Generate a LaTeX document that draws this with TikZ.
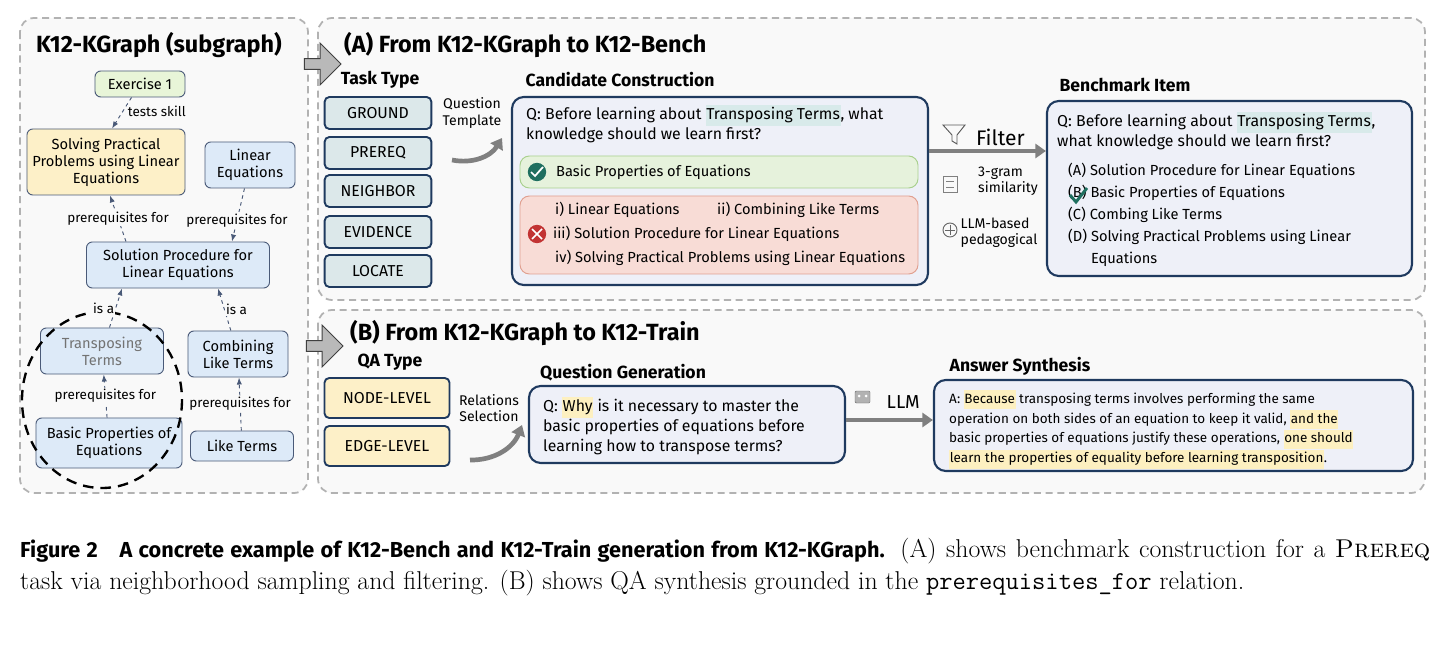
\documentclass[tikz,border=0pt]{standalone}
\usepackage{fontspec}
\newfontfamily\hand{Fira Sans}
\usetikzlibrary{arrows.meta,fit,shapes.arrows,positioning}
\definecolor{navy}{HTML}{1F3A5F}
\definecolor{edgeblue}{HTML}{4A5A78}
\definecolor{kgblue}{HTML}{DDEAF8}
\definecolor{kgyellow}{HTML}{FDF0C8}
\definecolor{kggreen}{HTML}{E8F5D8}
\definecolor{taskteal}{HTML}{DCE8EA}
\definecolor{lav}{HTML}{EEF0F8}
\definecolor{okfill}{HTML}{E6F2DC}
\definecolor{okline}{HTML}{A9D08E}
\definecolor{badfill}{HTML}{F8DCD6}
\definecolor{badline}{HTML}{E0A090}
\definecolor{checkc}{HTML}{1F6F5F}
\definecolor{hlteal}{HTML}{D8EAEA}
\definecolor{hlyel}{HTML}{FDF0C0}
\newcommand\hlt[2]{{\setlength{\fboxsep}{0.5pt}\colorbox{#1}{\strut #2}}}
\tikzset{
  kg/.style={draw=edgeblue, thick, rounded corners=5pt, fill=kgblue, align=center,
    font=\hand\fontsize{12.5}{14.5}\selectfont, inner sep=1pt},
  rel/.style={-{Latex[length=6pt]}, edgeblue, thick, dashed},
  rellab/.style={font=\hand\fontsize{11.5}{13}\selectfont, fill=gray!5, inner sep=1pt, text=black},
  panel/.style={draw=gray!60, line width=1.5pt, dash pattern=on 6pt off 4pt, rounded corners=12pt, fill=gray!5},
  task/.style={draw=navy, line width=1.6pt, rounded corners=4pt, fill=taskteal,
    minimum width=3.2cm, minimum height=0.96cm, font=\hand\fontsize{13.5}{15}\selectfont},
  qa/.style={task, fill=kgyellow, minimum width=3.75cm, minimum height=1.2cm},
  bigbox/.style={draw=navy, line width=1.8pt, rounded corners=10pt, fill=lav, inner sep=0pt},
  head/.style={font=\hand\bfseries\fontsize{15}{17}\selectfont},
  title/.style={font=\hand\bfseries\fontsize{20}{22}\selectfont, anchor=west},
  txt/.style={font=\hand\fontsize{13.5}{17}\selectfont, align=left, anchor=north west, inner sep=0pt},
  side/.style={font=\hand\fontsize{12}{14}\selectfont, align=left},
  curvy/.style={gray, line width=4pt, -{Triangle[length=9pt,width=12pt]}},
  flow/.style={gray, line width=3pt, -{Triangle[length=9pt,width=12pt]}},
  bigarrow/.style={single arrow, draw=black!75, thick, fill=gray!55, minimum height=1.1cm,
    minimum width=1.25cm, single arrow head extend=4pt, inner sep=1pt},
}
\begin{document}
\begin{tikzpicture}[x=0.03cm, y=-0.03cm]
\useasboundingbox (0,0) rectangle (1445,651);
% panels
\draw[panel] (20,18) rectangle (308,493);
\draw[panel] (318,18) rectangle (1425,300);
\draw[panel] (318,310) rectangle (1425,493);
\node[bigarrow] (arrA) at (320,64) {};
\node[bigarrow] (arrB) at (322,346) {};
\node[title] at (32,45) {K12-KGraph (subgraph)};

% knowledge graph
\node[kg, fill=kggreen, minimum width=2.7cm, minimum height=0.78cm] (ex) at (140,84) {Exercise 1};
\node[kg, fill=kgyellow, minimum width=4.74cm, minimum height=1.98cm] (solve) at (106,162) {Solving Practical\\Problems using Linear\\Equations};
\node[kg, minimum width=2.7cm, minimum height=1.38cm] (lin) at (250,165) {Linear\\Equations};
\node[kg, minimum width=5.49cm, minimum height=1.38cm] (proc) at (178,265) {Solution Procedure for\\Linear Equations};
\node[kg, minimum width=3.69cm, minimum height=1.38cm, text=gray!90!black] (trans) at (102,351) {Transposing\\Terms};
\node[kg, minimum width=3cm, minimum height=1.38cm] (comb) at (238,354) {Combining\\Like Terms};
\node[kg, minimum width=4.38cm, minimum height=1.5cm] (basic) at (109,443) {Basic Properties of\\Equations};
\node[kg, minimum width=3.09cm, minimum height=0.9cm] (like) at (242,446) {Like Terms};
\draw[line width=2pt, dash pattern=on 9pt off 6pt] (102,400) ellipse (80 and 88);

\draw[rel] (ex) -- (solve.north -| 112,0) node[rellab, right, pos=0.45, xshift=3pt] {tests skill};
\draw[rel] (proc.north -| 126,0) -- (solve.south -| 110,0) node[rellab, pos=0.5] {prerequisites for};
\draw[rel] (lin) -- (proc.north -| 232,0) node[rellab, pos=0.6] {prerequisites for};
\draw[rel] (trans) -- (proc.south -| 122,0) node[rellab, left, pos=0.5] {is a};
\draw[rel] (comb) -- (proc.south -| 218,0) node[rellab, right, pos=0.5] {is a};
\draw[rel] (basic) -- (trans) node[rellab, pos=0.5] {prerequisites for};
\draw[rel] (like) -- (comb) node[rellab, pos=0.5] {prerequisites for};

% (A)
\node[title] at (340,45) {(A) From K12-KGraph to K12-Bench};
\node[head] at (380,80) {Task Type};
\foreach \t/\y in {GROUND/113, PREREQ/153, NEIGHBOR/191, EVIDENCE/232, LOCATE/271}
  \node[task] (t\t) at (378,\y) {\t};
\node[side, align=center] (qtemp) at (472,113) {Question\\Template};
\draw[curvy] (452,160) to[bend right=35] (502,138);

\node[head] at (620,80) {Candidate Construction};
\node[bigbox, fit={(512,97) (928,285)}] (cand) {};
\node[txt] at (526,105) {Q: Before learning about \hlt{hlteal}{Transposing Terms}, what\\knowledge should we learn first?};
\node[draw=okline, fill=okfill, thick, rounded corners=8pt, inner sep=0pt, fit={(520,156) (918,188)}] (ok) {};
\node[circle, fill=checkc, minimum size=0.55cm, inner sep=0pt] (okc) at (537,172) {};
\draw[white, line width=1.5pt] (531,172) -- (535,176) -- (543,167);
\node[txt, anchor=west, font=\hand\fontsize{12.5}{14}\selectfont] at (556,172) {Basic Properties of Equations};
\node[draw=badline, fill=badfill, thick, rounded corners=8pt, inner sep=0pt, fit={(520,196) (918,274)}] (bad) {};
\node[circle, fill=red!70!black!80, minimum size=0.55cm, inner sep=0pt] (badc) at (537,234) {};
\draw[white, line width=1.5pt] (532,229) -- (542,239) (532,239) -- (542,229);
\begin{scope}[every node/.style={txt, anchor=west, font=\hand\fontsize{12.5}{14}\selectfont}]
\node at (555,210) {i) Linear Equations};
\node at (717,210) {ii) Combining Like Terms};
\node at (553,234) {iii) Solution Procedure for Linear Equations};
\node at (555,258) {iv) Solving Practical Problems using Linear Equations};
\end{scope}

\node[head] at (1125,85) {Benchmark Item};
\node[bigbox, fit={(1047,101) (1412,276)}] (bench) {};
\draw[flow] (cand.east |- 0,151) -- (bench.west |- 0,151) node[pos=0.55, above, text=black, font=\hand\fontsize{18}{20}\selectfont, xshift=6pt] {Filter};
\draw[gray!70!black, thick] (943,125) -- (965,125) -- (957,135) -- (957,144) -- (952,141) -- (952,135) -- cycle;
\draw[gray, thick] (943,176) rectangle (957,192) (946,181) -- (954,181) (946,187) -- (954,187);
\node[side] at (1008,181) {3-gram\\similarity};
\draw[gray!80!black, thick] (950,230) circle (7);
\draw[gray!80!black] (945,230) -- (955,230) (950,225) -- (950,235);
\node[side] at (999,233) {LLM-based\\pedagogical};
\node[txt] at (1057,112) {Q: Before learning about \hlt{hlteal}{Transposing Terms},\\what knowledge should we learn first?};
\node[txt, font=\hand\fontsize{12.5}{18.7}\selectfont] at (1068,163) {(A) Solution Procedure for Linear Equations\\(B) Basic Properties of Equations\\(C) Combing Like Terms\\(D) Solving Practical Problems using Linear\\\phantom{(D) }Equations};
\draw[checkc, line width=2.5pt] (1070,195) -- (1076,202) -- (1087,188);

% (B)
\node[title] at (346,333) {(B) From K12-KGraph to K12-Train};
\node[head] at (390,362) {QA Type};
\node[qa] (node) at (387,398) {NODE-LEVEL};
\node[qa] (edge) at (387,446) {EDGE-LEVEL};
\node[side, align=center] (relsel) at (489,408) {Relations\\Selection};
\draw[curvy] (470,460) to[bend right=35] (522,425);

\node[head] at (623,373) {Question Generation};
\node[bigbox, fit={(529,386) (845,463)}] (qgen) {};
\node[txt, font=\hand\fontsize{13.5}{17}\selectfont] at (543,397) {Q: \hlt{hlyel}{Why} is it necessary to master the\\basic properties of equations before\\learning how to transpose terms?};

\node[head] at (1020,366) {Answer Synthesis};
\node[bigbox, fit={(934,380) (1413,471)}] (ans) {};
\draw[flow] (qgen.east |- 0,420) -- (ans.west |- 0,420) node[pos=0.55, above=5pt, text=black, font=\hand\fontsize{16}{18}\selectfont, xshift=8pt] {LLM};
\draw[gray!80!black, fill=gray!60, rounded corners=1pt] (855,391) rectangle (870,403);
\fill[white] (859,396) circle (1.5) (866,396) circle (1.5);
\node[txt, font=\hand\fontsize{11.5}{15}\selectfont] at (949,390) {A: \hlt{hlyel}{Because} transposing terms involves performing the same\\operation on both sides of an equation to keep it valid, \hlt{hlyel}{and the}\\basic properties of equations justify these operations, \hlt{hlyel}{one should}\\\hlt{hlyel}{learn the properties of equality before learning transposition}.};

% caption
\node[anchor=north west, text width=42.3cm, align=justify, inner sep=0pt,
  font=\fontsize{22}{27}\selectfont] (cap) at (20,538)
  {{\hand\bfseries\fontsize{18.5}{27}\selectfont Figure 2\quad A concrete example of K12-Bench and K12-Train generation from K12-KGraph.} (A) shows benchmark construction for a \textsc{Prereq} task via neighborhood sampling and filtering. (B) shows QA synthesis grounded in the \texttt{prerequisites\_for} relation.};
\end{tikzpicture}
\end{document}
